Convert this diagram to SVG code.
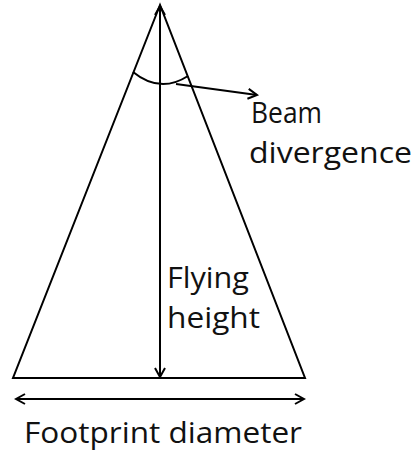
<svg xmlns="http://www.w3.org/2000/svg" width="414" height="455" viewBox="0 0 414 455">
<defs>
<style>
.ln{stroke:#000;stroke-width:2;fill:none}
.t{font-family:"Open Sans","Liberation Sans",sans-serif;font-size:29px;fill:#111}
</style>
<marker id="oa" markerWidth="12" markerHeight="12" refX="10" refY="6" orient="auto-start-reverse" markerUnits="userSpaceOnUse">
<path d="M1,1 L10,6 L1,11" fill="none" stroke="#000" stroke-width="2"/>
</marker>
</defs>
<g id="cone">
<path class="ln" d="M160,5 L13,378 L305,378 Z"/>
</g>
<g id="angle">
<path class="ln" d="M133,72 Q160,94 188,76"/>
</g>
<g id="connectors">
<line class="ln" x1="160" y1="6" x2="160" y2="377" marker-start="url(#oa)" marker-end="url(#oa)"/>
<line class="ln" x1="176" y1="84" x2="257" y2="95" marker-end="url(#oa)"/>
<line class="ln" x1="16" y1="399" x2="304" y2="399" marker-start="url(#oa)" marker-end="url(#oa)"/>
</g>
<g id="labels">
<text class="t" x="251" y="123" textLength="71" lengthAdjust="spacingAndGlyphs">Beam</text>
<text class="t" x="249" y="163" textLength="163" lengthAdjust="spacingAndGlyphs">divergence</text>
<text class="t" x="167" y="288" textLength="82" lengthAdjust="spacingAndGlyphs">Flying</text>
<text class="t" x="167" y="328" textLength="93" lengthAdjust="spacingAndGlyphs">height</text>
<text class="t" x="24" y="443" textLength="278" lengthAdjust="spacingAndGlyphs">Footprint diameter</text>
</g>
</svg>
